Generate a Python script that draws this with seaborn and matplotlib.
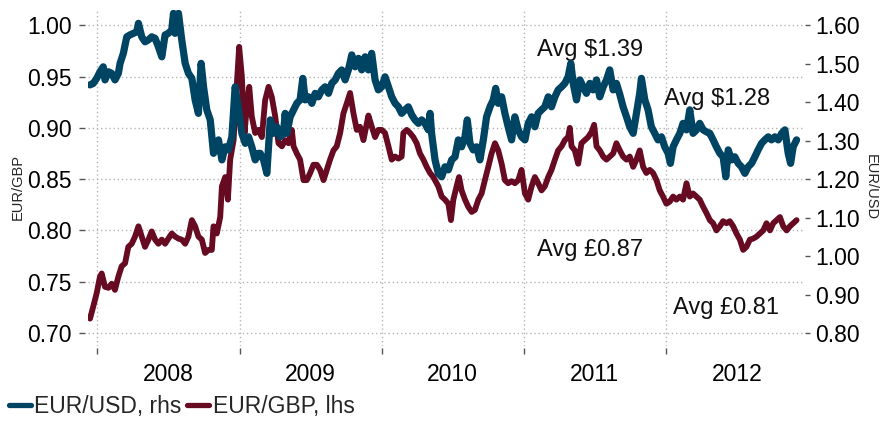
import matplotlib
matplotlib.use("Agg")
import matplotlib.pyplot as plt
import matplotlib.dates as mdates
from matplotlib.lines import Line2D
import seaborn as sns
import pandas as pd
import numpy as np

# ---------------- data (decimal years) ----------------
usd_t = [
    2007.949, 2007.972, 2007.996, 2008.019, 2008.042, 2008.054, 2008.078, 2008.101, 2008.124, 2008.148,
    2008.160, 2008.183, 2008.207, 2008.230, 2008.253, 2008.277, 2008.289, 2008.312, 2008.335, 2008.359,
    2008.382, 2008.406, 2008.429, 2008.453, 2008.476, 2008.499, 2008.523, 2008.535, 2008.546, 2008.570,
    2008.593, 2008.617, 2008.640, 2008.664, 2008.687, 2008.710, 2008.729, 2008.746, 2008.769, 2008.793,
    2008.816, 2008.839, 2008.851, 2008.875, 2008.898, 2008.921, 2008.945, 2008.968, 2008.992, 2009.015,
    2009.039, 2009.062, 2009.085, 2009.109, 2009.132, 2009.144, 2009.168, 2009.191, 2009.215, 2009.238,
    2009.261, 2009.285, 2009.308, 2009.320, 2009.332, 2009.355, 2009.379, 2009.402, 2009.425, 2009.444,
    2009.461, 2009.484, 2009.508, 2009.531, 2009.554, 2009.578, 2009.601, 2009.625, 2009.648, 2009.672,
    2009.695, 2009.718, 2009.742, 2009.765, 2009.789, 2009.812, 2009.836, 2009.859, 2009.883, 2009.906,
    2009.929, 2009.953, 2009.976, 2010.000, 2010.023, 2010.047, 2010.070, 2010.094, 2010.117, 2010.140,
    2010.164, 2010.187, 2010.211, 2010.234, 2010.258, 2010.281, 2010.304, 2010.328, 2010.340, 2010.351,
    2010.375, 2010.398, 2010.422, 2010.445, 2010.469, 2010.492, 2010.516, 2010.539, 2010.562, 2010.586,
    2010.602, 2010.621, 2010.644, 2010.668, 2010.691, 2010.715, 2010.738, 2010.762, 2010.785, 2010.802,
    2010.820, 2010.844, 2010.867, 2010.890, 2010.914, 2010.937, 2010.961, 2010.984, 2011.008, 2011.031,
    2011.055, 2011.078, 2011.101, 2011.125, 2011.148, 2011.172, 2011.195, 2011.219, 2011.242, 2011.266,
    2011.289, 2011.312, 2011.331, 2011.348, 2011.371, 2011.395, 2011.418, 2011.441, 2011.465, 2011.488,
    2011.512, 2011.535, 2011.559, 2011.582, 2011.605, 2011.629, 2011.652, 2011.676, 2011.699, 2011.723,
    2011.746, 2011.770, 2011.793, 2011.816, 2011.828, 2011.852, 2011.875, 2011.898, 2011.922, 2011.945,
    2011.969, 2011.992, 2012.016, 2012.032, 2012.051, 2012.074, 2012.098, 2012.121, 2012.145, 2012.168,
    2012.191, 2012.215, 2012.238, 2012.262, 2012.285, 2012.309, 2012.332, 2012.355, 2012.379, 2012.402,
    2012.421, 2012.438, 2012.461, 2012.484, 2012.508, 2012.531, 2012.555, 2012.578, 2012.602, 2012.625,
    2012.648, 2012.672, 2012.695, 2012.719, 2012.742, 2012.766, 2012.789, 2012.813, 2012.836, 2012.859,
    2012.876, 2012.894, 2012.918,
]
usd_v = [
    1.445, 1.449, 1.462, 1.479, 1.492, 1.458, 1.479, 1.475, 1.458, 1.475,
    1.501, 1.527, 1.570, 1.575, 1.579, 1.583, 1.605, 1.570, 1.557, 1.562,
    1.570, 1.566, 1.544, 1.518, 1.575, 1.579, 1.588, 1.631, 1.579, 1.631,
    1.562, 1.501, 1.475, 1.462, 1.406, 1.371, 1.501, 1.440, 1.380, 1.354,
    1.267, 1.293, 1.302, 1.250, 1.284, 1.276, 1.310, 1.440, 1.380, 1.319,
    1.293, 1.310, 1.284, 1.250, 1.267, 1.267, 1.250, 1.215, 1.354, 1.319,
    1.336, 1.310, 1.319, 1.371, 1.319, 1.362, 1.380, 1.397, 1.406, 1.462,
    1.406, 1.414, 1.397, 1.423, 1.414, 1.432, 1.440, 1.423, 1.449, 1.458,
    1.475, 1.484, 1.458, 1.484, 1.523, 1.492, 1.514, 1.484, 1.518, 1.484,
    1.527, 1.458, 1.432, 1.440, 1.466, 1.440, 1.414, 1.397, 1.388, 1.371,
    1.380, 1.388, 1.367, 1.354, 1.345, 1.354, 1.345, 1.328, 1.371, 1.319,
    1.250, 1.215, 1.206, 1.232, 1.224, 1.250, 1.258, 1.302, 1.284, 1.310,
    1.354, 1.293, 1.276, 1.284, 1.250, 1.302, 1.362, 1.388, 1.406, 1.436,
    1.397, 1.414, 1.371, 1.336, 1.302, 1.362, 1.328, 1.310, 1.302, 1.345,
    1.362, 1.336, 1.371, 1.380, 1.388, 1.414, 1.388, 1.414, 1.432, 1.440,
    1.449, 1.466, 1.501, 1.449, 1.406, 1.458, 1.440, 1.423, 1.449, 1.432,
    1.458, 1.414, 1.440, 1.458, 1.484, 1.432, 1.449, 1.420, 1.388, 1.362,
    1.336, 1.319, 1.371, 1.423, 1.462, 1.406, 1.380, 1.336, 1.319, 1.302,
    1.310, 1.284, 1.267, 1.241, 1.284, 1.302, 1.319, 1.345, 1.328, 1.380,
    1.319, 1.328, 1.345, 1.328, 1.323, 1.319, 1.302, 1.284, 1.267, 1.258,
    1.206, 1.276, 1.250, 1.258, 1.241, 1.232, 1.215, 1.232, 1.241, 1.258,
    1.276, 1.293, 1.302, 1.310, 1.302, 1.310, 1.302, 1.319, 1.328, 1.267,
    1.241, 1.284, 1.302,
]

gbp_t = [
    2007.949, 2007.972, 2007.996, 2008.019, 2008.031, 2008.054, 2008.078, 2008.101, 2008.124, 2008.148,
    2008.171, 2008.195, 2008.218, 2008.242, 2008.265, 2008.289, 2008.312, 2008.335, 2008.359, 2008.382,
    2008.406, 2008.429, 2008.453, 2008.476, 2008.499, 2008.523, 2008.546, 2008.570, 2008.593, 2008.617,
    2008.640, 2008.664, 2008.687, 2008.710, 2008.734, 2008.757, 2008.781, 2008.804, 2008.816, 2008.839,
    2008.863, 2008.875, 2008.898, 2008.917, 2008.933, 2008.957, 2008.980, 2008.996, 2009.015, 2009.034,
    2009.050, 2009.067, 2009.085, 2009.109, 2009.132, 2009.156, 2009.179, 2009.203, 2009.226, 2009.250,
    2009.273, 2009.297, 2009.320, 2009.343, 2009.367, 2009.379, 2009.402, 2009.425, 2009.449, 2009.472,
    2009.496, 2009.519, 2009.543, 2009.566, 2009.590, 2009.613, 2009.636, 2009.660, 2009.683, 2009.707,
    2009.730, 2009.754, 2009.777, 2009.801, 2009.824, 2009.847, 2009.871, 2009.894, 2009.906, 2009.930,
    2009.953, 2009.976, 2010.000, 2010.023, 2010.047, 2010.070, 2010.094, 2010.117, 2010.140, 2010.152,
    2010.176, 2010.199, 2010.222, 2010.246, 2010.269, 2010.293, 2010.316, 2010.340, 2010.363, 2010.398,
    2010.422, 2010.445, 2010.469, 2010.487, 2010.504, 2010.527, 2010.544, 2010.562, 2010.586, 2010.609,
    2010.633, 2010.656, 2010.680, 2010.703, 2010.726, 2010.750, 2010.773, 2010.797, 2010.820, 2010.844,
    2010.867, 2010.890, 2010.914, 2010.937, 2010.961, 2010.984, 2011.008, 2011.031, 2011.055, 2011.078,
    2011.101, 2011.125, 2011.148, 2011.172, 2011.195, 2011.219, 2011.242, 2011.266, 2011.289, 2011.312,
    2011.324, 2011.336, 2011.359, 2011.383, 2011.406, 2011.430, 2011.453, 2011.477, 2011.495, 2011.512,
    2011.535, 2011.559, 2011.582, 2011.605, 2011.629, 2011.652, 2011.676, 2011.699, 2011.723, 2011.746,
    2011.770, 2011.793, 2011.816, 2011.840, 2011.863, 2011.887, 2011.910, 2011.934, 2011.957, 2011.980,
    2012.004, 2012.027, 2012.051, 2012.074, 2012.098, 2012.121, 2012.145, 2012.168, 2012.191, 2012.215,
    2012.238, 2012.262, 2012.285, 2012.309, 2012.332, 2012.355, 2012.379, 2012.402, 2012.426, 2012.449,
    2012.473, 2012.496, 2012.520, 2012.543, 2012.566, 2012.590, 2012.613, 2012.637, 2012.660, 2012.684,
    2012.707, 2012.731, 2012.754, 2012.777, 2012.801, 2012.824, 2012.848, 2012.871, 2012.894, 2012.918,
]
gbp_v = [
    0.714, 0.726, 0.739, 0.755, 0.758, 0.745, 0.744, 0.748, 0.742, 0.755,
    0.765, 0.768, 0.784, 0.787, 0.794, 0.804, 0.794, 0.784, 0.791, 0.799,
    0.791, 0.787, 0.791, 0.787, 0.792, 0.797, 0.794, 0.792, 0.791, 0.787,
    0.794, 0.810, 0.804, 0.794, 0.791, 0.778, 0.781, 0.781, 0.804, 0.797,
    0.813, 0.843, 0.852, 0.830, 0.869, 0.888, 0.943, 0.979, 0.950, 0.895,
    0.921, 0.940, 0.911, 0.895, 0.898, 0.891, 0.927, 0.940, 0.930, 0.911,
    0.885, 0.882, 0.888, 0.885, 0.898, 0.882, 0.875, 0.869, 0.849, 0.849,
    0.856, 0.864, 0.864, 0.859, 0.849, 0.859, 0.869, 0.878, 0.882, 0.895,
    0.914, 0.924, 0.934, 0.914, 0.898, 0.901, 0.888, 0.904, 0.912, 0.901,
    0.891, 0.898, 0.898, 0.895, 0.882, 0.869, 0.872, 0.870, 0.872, 0.895,
    0.898, 0.895, 0.891, 0.885, 0.875, 0.869, 0.862, 0.856, 0.852, 0.843,
    0.833, 0.830, 0.826, 0.810, 0.830, 0.843, 0.852, 0.839, 0.830, 0.823,
    0.818, 0.820, 0.830, 0.836, 0.849, 0.862, 0.875, 0.885, 0.878, 0.865,
    0.849, 0.846, 0.848, 0.846, 0.849, 0.859, 0.836, 0.830, 0.843, 0.852,
    0.846, 0.839, 0.843, 0.852, 0.859, 0.869, 0.878, 0.882, 0.888, 0.891,
    0.900, 0.882, 0.878, 0.865, 0.885, 0.888, 0.891, 0.896, 0.903, 0.882,
    0.878, 0.872, 0.869, 0.872, 0.875, 0.885, 0.878, 0.872, 0.869, 0.872,
    0.862, 0.869, 0.878, 0.862, 0.856, 0.859, 0.856, 0.849, 0.839, 0.833,
    0.826, 0.828, 0.833, 0.830, 0.833, 0.830, 0.846, 0.833, 0.836, 0.833,
    0.830, 0.823, 0.817, 0.810, 0.807, 0.800, 0.804, 0.809, 0.807, 0.809,
    0.804, 0.797, 0.791, 0.781, 0.784, 0.791, 0.792, 0.794, 0.797, 0.800,
    0.807, 0.800, 0.807, 0.810, 0.813, 0.804, 0.800, 0.804, 0.807, 0.810,
]

years = [2008, 2009, 2010, 2011, 2012]
left_ticks = [0.70, 0.75, 0.80, 0.85, 0.90, 0.95, 1.00]
right_ticks = [0.80, 0.90, 1.00, 1.10, 1.20, 1.30, 1.40, 1.50, 1.60]
usd_label = "EUR/USD, rhs"
gbp_label = "EUR/GBP, lhs"
notes = [("Avg \\$1.39", 2011.09, 0.976),
         ("Avg \\$1.28", 2011.99, 0.928),
         ("Avg £0.87", 2011.09, 0.781),
         ("Avg £0.81", 2012.05, 0.724)]

BLUE = "#004464"
RED = "#660b21"
GRID = "#b5b5b5"
TICKC = "#555555"


def to_date(y):
    y0 = int(np.floor(y))
    start = pd.Timestamp(year=y0, month=1, day=1)
    end = pd.Timestamp(year=y0 + 1, month=1, day=1)
    return start + (end - start) * (y - y0)


usd = pd.DataFrame({"date": [to_date(t) for t in usd_t], "value": usd_v})
gbp = pd.DataFrame({"date": [to_date(t) for t in gbp_t], "value": gbp_v})

sns.set_theme(style="white")
plt.rcParams["font.family"] = ["Liberation Sans", "DejaVu Sans"]

W, H = 884, 421
fig = plt.figure(figsize=(W / 100, H / 100), dpi=100)
L, R, T, B = 88, 803, 10, 346
ax = fig.add_axes([L / W, 1 - B / H, (R - L) / W, (B - T) / H])
ax2 = ax.twinx()

sns.lineplot(data=gbp, x="date", y="value", ax=ax, color=RED, linewidth=4.2,
             estimator=None, sort=False, legend=False)
sns.lineplot(data=usd, x="date", y="value", ax=ax2, color=BLUE, linewidth=5.2,
             estimator=None, sort=False, legend=False)

ax.set_xlim(to_date(2007.9346), to_date(2012.963))
ax.set_ylim(0.6873, 1.0149)
ax2.set_ylim(0.7661, 1.6397)

for a in (ax, ax2):
    for s in a.spines.values():
        s.set_visible(False)
    a.set_xlabel("")
    a.set_ylabel("")

ax.spines["left"].set_position(("outward", 2.2))
ax.spines["bottom"].set_position(("outward", 1.5))
ax2.spines["right"].set_position(("outward", 1.5))

ax.set_xticks([to_date(y) for y in years])
ax.set_xticklabels([])
ax.set_xticks([to_date(y + 0.5) for y in years], minor=True)
ax.set_xticklabels([str(y) for y in years], minor=True)
ax.tick_params(axis="x", which="major", length=4.5, width=1, color=TICKC, direction="out", bottom=True)
ax.tick_params(axis="x", which="minor", length=0, pad=11, labelsize=16.5, labelcolor="black", bottom=True)

ax.set_yticks(left_ticks)
ax.set_yticklabels([f"{v:.2f}" for v in left_ticks])
ax.tick_params(axis="y", which="major", length=4.3, width=1, color=TICKC, direction="out",
               left=True, pad=5, labelsize=16.5, labelcolor="black")
ax2.set_yticks(right_ticks)
ax2.set_yticklabels([f"{v:.2f}" for v in right_ticks])
ax2.tick_params(axis="y", which="major", length=3.8, width=1, color=TICKC, direction="out",
                right=True, pad=3.5, labelsize=16.5, labelcolor="black")

ax.set_axisbelow(True)
ax.grid(True, which="major", axis="both", color=GRID, linestyle=(0, (1, 2)), linewidth=1)
ax2.grid(False)

for text, t, v in notes:
    ax.text(mdates.date2num(to_date(t)), v, text, fontsize=17, ha="left", va="center", color="#111111")

fig.text(18 / W, 1 - 187 / H, "EUR/GBP", rotation=90, ha="center", va="center", fontsize=10.5)
fig.text(871 / W, 1 - 187 / H, "EUR/USD", rotation=270, ha="center", va="center", fontsize=10.5)

handles = [Line2D([0], [0], color=BLUE, lw=3.8), Line2D([0], [0], color=RED, lw=3.8)]
fig.legend(handles, [usd_label, gbp_label], loc="center left", bbox_to_anchor=(9 / W, 1 - 407 / H),
           ncol=2, frameon=False, fontsize=16.5, handlelength=0.95, handletextpad=0.15,
           columnspacing=0.25, borderaxespad=0, borderpad=0)

fig.savefig("out.png", dpi=100)
